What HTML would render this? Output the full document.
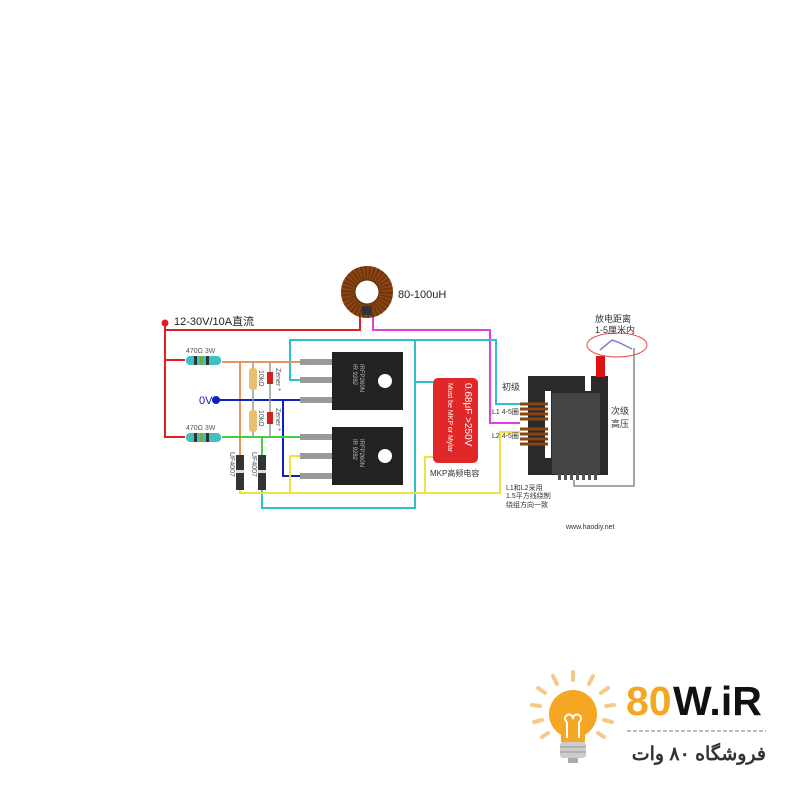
<!DOCTYPE html>
<html><head><meta charset="utf-8"><style>
html,body{margin:0;padding:0;background:#fff;}
svg{display:block;}
text{font-family:"Liberation Sans","Noto Sans CJK SC",sans-serif;}
</style></head><body>
<svg width="800" height="800" viewBox="0 0 800 800" xmlns="http://www.w3.org/2000/svg">
<rect width="800" height="800" fill="#fff"/>
<!-- wires -->
<g fill="none" stroke-width="2">
<polyline points="165,323 165,437 185,437" stroke="#e02020"/>
<polyline points="165,360 185,360" stroke="#e02020"/>
<polyline points="165,330 360,330 360,313" stroke="#e02020"/>
<polyline points="373,313 373,330 490,330 490,423 520,423" stroke="#e040e0"/>
<polyline points="300,380 290,380 290,340 496,340 496,404 520,404" stroke="#30c0c8"/>
<polyline points="415,340 415,508 262,508 262,485" stroke="#30c0c8"/>
<polyline points="415,382 433,382" stroke="#30c0c8"/>
<polyline points="222,362 300,362" stroke="#e8955a"/>
<polyline points="240,362 240,455" stroke="#e8955a"/>
<polyline points="215,400 300,400" stroke="#1020c0"/>
<polyline points="283,400 283,476 300,476" stroke="#1020c0"/>
<polyline points="222,437 300,437" stroke="#40d040"/>
<polyline points="262,437 262,455" stroke="#40d040"/>
<polyline points="240,490 240,493 500,493 500,432 520,432" stroke="#f0e040"/>
<polyline points="300,456 290,456 290,493" stroke="#f0e040"/>
<polyline points="433,457 425,457 425,493" stroke="#f0e040"/>
<polyline points="634,348 634,486 574,486 574,480" stroke="#888" stroke-width="1.5"/>
</g>
<circle cx="165" cy="323" r="3.5" fill="#e02020"/>
<circle cx="216" cy="400" r="4" fill="#1020c0"/>
<!-- toroid -->
<circle cx="367" cy="292" r="19" fill="none" stroke="#8b4513" stroke-width="14"/>
<circle cx="367" cy="292" r="19" fill="none" stroke="#5a2a08" stroke-width="14" stroke-dasharray="1.5 2" opacity="0.6"/>
<circle cx="367" cy="292" r="12" fill="#fff" stroke="#5a2a08"/>
<rect x="362" y="306" width="10" height="9" fill="#333"/>
<text x="398" y="298" font-size="11" fill="#222">80-100uH</text>
<text x="174" y="325" font-size="11" fill="#222">12-30V/10A直流</text>
<text x="199" y="404" font-size="11" fill="#1020c0">0V</text>
<!-- resistors 470 -->
<g>
<rect x="186" y="356" width="35" height="9" rx="4" fill="#40c0c0"/>
<rect x="194" y="356" width="3" height="9" fill="#333"/><rect x="200" y="356" width="3" height="9" fill="#7a4"/><rect x="206" y="356" width="3" height="9" fill="#333"/>
<rect x="186" y="433" width="35" height="9" rx="4" fill="#40c0c0"/>
<rect x="194" y="433" width="3" height="9" fill="#333"/><rect x="200" y="433" width="3" height="9" fill="#7a4"/><rect x="206" y="433" width="3" height="9" fill="#333"/>
<text x="186" y="353" font-size="7" fill="#555">470Ω 3W</text>
<text x="186" y="430" font-size="7" fill="#555">470Ω 3W</text>
</g>
<!-- 10k and zener -->
<line x1="253" y1="362" x2="253" y2="437" stroke="#999" stroke-width="1.5"/>
<line x1="270" y1="362" x2="270" y2="437" stroke="#999" stroke-width="1.5"/>
<rect x="249" y="368" width="8" height="22" rx="3" fill="#e8c070"/>
<rect x="249" y="410" width="8" height="22" rx="3" fill="#e8c070"/>
<rect x="267" y="372" width="6" height="12" fill="#d02020"/>
<rect x="267" y="412" width="6" height="12" fill="#d02020"/>
<text transform="translate(259,370) rotate(90)" font-size="7" fill="#555">10kΩ</text>
<text transform="translate(259,410) rotate(90)" font-size="7" fill="#555">10kΩ</text>
<text transform="translate(276,368) rotate(90)" font-size="7" fill="#555">Zener *</text>
<text transform="translate(276,408) rotate(90)" font-size="7" fill="#555">Zener *</text>
<!-- diodes -->
<rect x="236" y="455" width="8" height="35" fill="#333"/>
<rect x="258" y="455" width="8" height="35" fill="#333"/>
<rect x="236" y="470" width="8" height="3" fill="#ddd"/>
<rect x="258" y="470" width="8" height="3" fill="#ddd"/>
<text transform="translate(230,452) rotate(90)" font-size="7" fill="#555">UF4007</text>
<text transform="translate(252,452) rotate(90)" font-size="7" fill="#555">UF4007</text>
<!-- mosfets -->
<g fill="#999">
<rect x="300" y="359" width="32" height="6"/><rect x="300" y="377" width="32" height="6"/><rect x="300" y="397" width="32" height="6"/>
<rect x="300" y="434" width="32" height="6"/><rect x="300" y="453" width="32" height="6"/><rect x="300" y="473" width="32" height="6"/>
</g>
<rect x="332" y="352" width="71" height="58" fill="#222"/>
<rect x="332" y="427" width="71" height="58" fill="#222"/>
<circle cx="385" cy="381" r="7" fill="#fff"/>
<circle cx="385" cy="456" r="7" fill="#fff"/>
<text transform="translate(360,364) rotate(90)" font-size="6" fill="#bbb">IRFP260N</text>
<text transform="translate(353,364) rotate(90)" font-size="6" fill="#bbb">IR 9282</text>
<text transform="translate(360,439) rotate(90)" font-size="6" fill="#bbb">IRFP260N</text>
<text transform="translate(353,439) rotate(90)" font-size="6" fill="#bbb">IR 9282</text>
<!-- capacitor -->
<rect x="433" y="378" width="45" height="85" rx="5" fill="#e02828"/>
<text transform="translate(465,383) rotate(90)" font-size="10" fill="#fff">0.68μF &gt;250V</text>
<text transform="translate(448,383) rotate(90)" font-size="7" fill="#fff">Must be MKP or Mylar</text>
<text x="430" y="476" font-size="8" fill="#333">MKP高频电容</text>
<!-- transformer -->
<rect x="528" y="376" width="80" height="99" fill="#2a2a2a"/>
<rect x="585" y="376" width="6" height="15" fill="#fff"/>
<rect x="552" y="393" width="48" height="81" fill="#444"/>
<rect x="545" y="391" width="6" height="67" fill="#fff"/>
<g fill="#555"><rect x="558" y="474" width="3" height="6"/><rect x="564" y="474" width="3" height="6"/><rect x="570" y="474" width="3" height="6"/><rect x="576" y="474" width="3" height="6"/><rect x="582" y="474" width="3" height="6"/><rect x="588" y="474" width="3" height="6"/><rect x="594" y="474" width="3" height="6"/></g>
<g stroke="#8b4513" stroke-width="3">
<line x1="520" y1="404" x2="548" y2="404"/><line x1="520" y1="409" x2="548" y2="409"/><line x1="520" y1="414" x2="548" y2="414"/><line x1="520" y1="419" x2="548" y2="419"/>
<line x1="520" y1="429" x2="548" y2="429"/><line x1="520" y1="434" x2="548" y2="434"/><line x1="520" y1="439" x2="548" y2="439"/><line x1="520" y1="444" x2="548" y2="444"/>
</g>
<rect x="596" y="356" width="9" height="21" fill="#e01010"/>
<ellipse cx="617" cy="345" rx="30" ry="12" fill="none" stroke="#e05050" stroke-width="1"/>
<polyline points="600,350 612,340 620,343 632,349" fill="none" stroke="#8080e0" stroke-width="1.5"/>
<text x="595" y="322" font-size="9" fill="#333">放电距离</text>
<text x="595" y="333" font-size="9" fill="#333">1-5厘米内</text>
<text x="502" y="390" font-size="9" fill="#333">初级</text>
<text x="492" y="414" font-size="7" fill="#333">L1 4-5圈</text>
<text x="492" y="438" font-size="7" fill="#333">L2 4-5圈</text>
<text x="611" y="414" font-size="9" fill="#333">次级</text>
<text x="611" y="427" font-size="9" fill="#333">高压</text>
<text x="506" y="490" font-size="7" fill="#333">L1和L2采用</text>
<text x="506" y="498" font-size="7" fill="#333">1.5平方线绕制</text>
<text x="506" y="507" font-size="7" fill="#333">绕组方向一致</text>
<text x="566" y="529" font-size="7" fill="#333">www.haodiy.net</text>
<!-- logo -->
<g stroke="#f5c98a" stroke-width="4" stroke-linecap="round">
<line x1="573" y1="672" x2="573" y2="680"/><line x1="553" y1="676" x2="557" y2="684"/><line x1="593" y1="676" x2="589" y2="684"/>
<line x1="538" y1="688" x2="545" y2="693"/><line x1="608" y1="688" x2="601" y2="693"/>
<line x1="532" y1="705" x2="540" y2="706"/><line x1="614" y1="705" x2="606" y2="706"/>
<line x1="534" y1="722" x2="542" y2="720"/><line x1="612" y1="722" x2="604" y2="720"/>
<line x1="542" y1="737" x2="548" y2="733"/><line x1="604" y1="737" x2="598" y2="733"/>
</g>
<circle cx="573" cy="714" r="24" fill="#f5a623"/>
<rect x="561" y="730" width="24" height="12" fill="#f5a623"/>
<path d="M567 738 V722 M579 738 V722 M567 722 a4 4 0 1 1 6 -3 a4 4 0 1 1 6 3" fill="none" stroke="#fff" stroke-width="2"/>
<rect x="560" y="742" width="26" height="16" rx="3" fill="#ccc"/>
<line x1="560" y1="747" x2="586" y2="747" stroke="#999"/><line x1="560" y1="752" x2="586" y2="752" stroke="#999"/>
<rect x="568" y="758" width="10" height="5" fill="#aaa"/>
<text x="626" y="715" font-size="41" font-weight="bold" fill="#f5a623">80</text>
<text x="673" y="715" font-size="41" font-weight="bold" fill="#111">W.iR</text>
<line x1="627" y1="731" x2="766" y2="731" stroke="#bbb" stroke-width="2" stroke-dasharray="4 2"/>
<text x="766" y="760" font-size="19" font-weight="bold" fill="#333" text-anchor="end" font-family="DejaVu Sans,sans-serif">فروشگاه ۸۰ وات</text>
</svg>
</body></html>
